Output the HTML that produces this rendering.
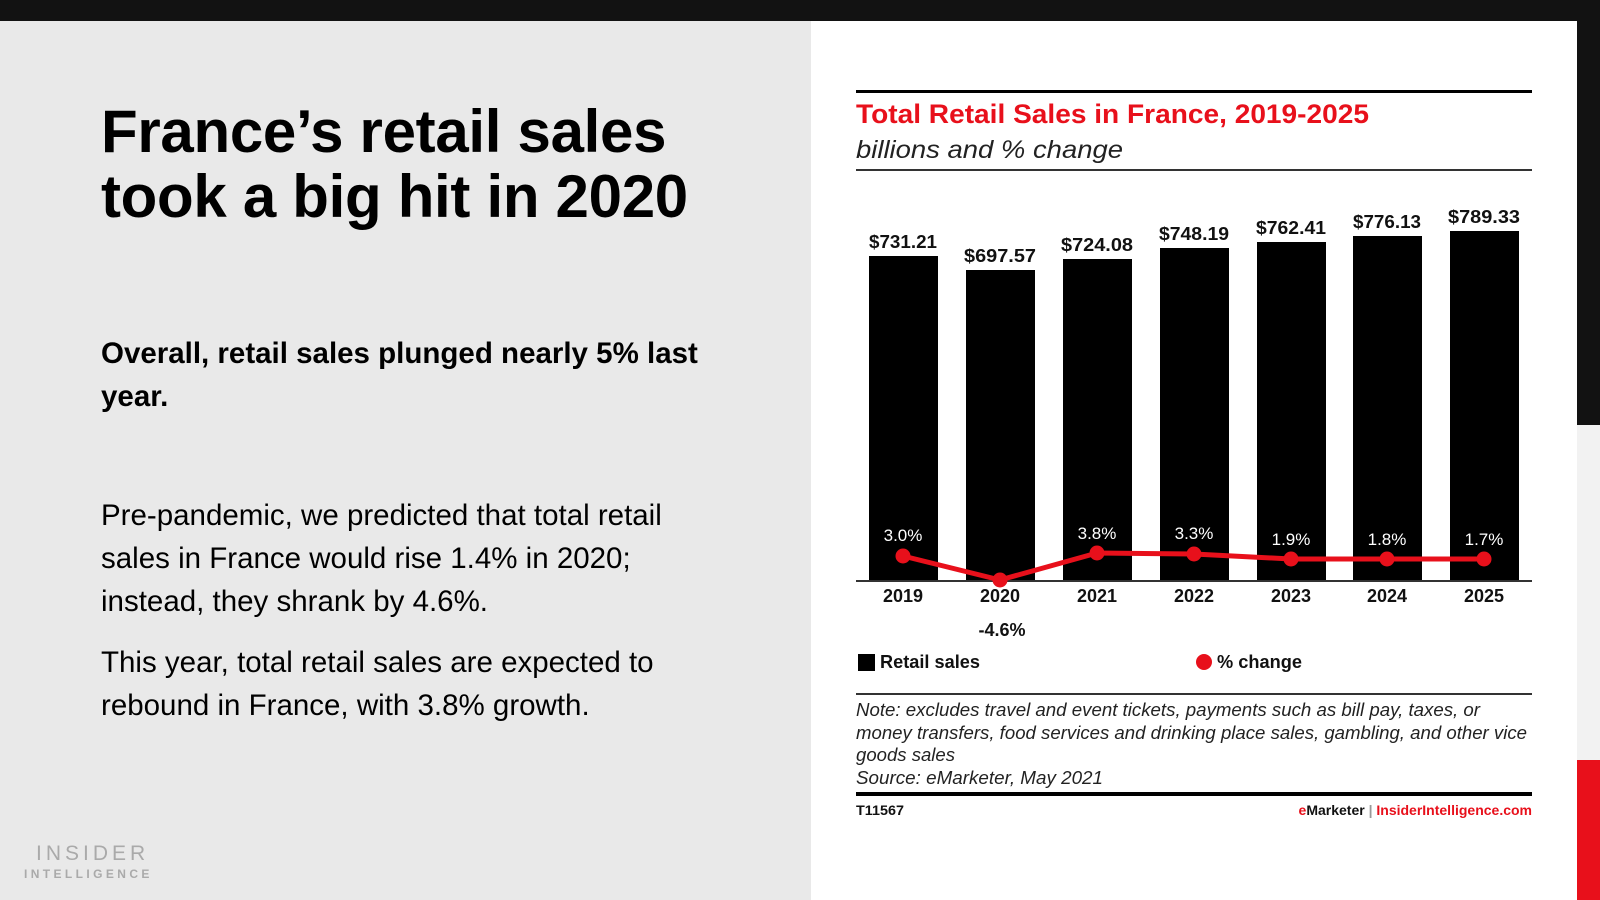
<!DOCTYPE html>
<html><head><meta charset="utf-8"><style>
html,body{margin:0;padding:0}
body{width:1600px;height:900px;position:relative;overflow:hidden;background:#e9e9e9;font-family:"Liberation Sans",Arial,sans-serif;color:#000}
.abs{position:absolute}
h1{position:absolute;left:101px;top:99px;margin:0;font-size:60px;line-height:65px;font-weight:bold;letter-spacing:-0.3px}
.p{position:absolute;left:101px;font-size:29.5px;line-height:43px;margin:0}
</style></head><body>
<div class="abs" style="left:0;top:0;width:1600px;height:21px;background:#121212"></div>
<div class="abs" style="left:811px;top:21px;width:766px;height:879px;background:#fff"></div>
<div class="abs" style="left:1577px;top:0;width:23px;height:425px;background:#121212"></div>
<div class="abs" style="left:1577px;top:425px;width:23px;height:335px;background:#f2f2f2"></div>
<div class="abs" style="left:1577px;top:760px;width:23px;height:140px;background:#e8101b"></div>

<h1>France’s retail sales<br>took a big hit in 2020</h1>
<p class="p" style="top:332px;font-weight:bold;width:610px">Overall, retail sales plunged nearly 5% last year.</p>
<p class="p" style="top:494px;width:600px">Pre-pandemic, we predicted that total retail sales in France would rise 1.4% in 2020; instead, they shrank by 4.6%.</p>
<p class="p" style="top:641px;width:600px">This year, total retail sales are expected to rebound in France, with 3.8% growth.</p>
<div class="abs" style="left:36px;top:842px;font-size:21px;letter-spacing:4px;color:#aaa">INSIDER</div>
<div class="abs" style="left:24px;top:867px;font-size:12px;letter-spacing:3.4px;color:#aaa;font-weight:bold">INTELLIGENCE</div>

<svg class="abs" style="left:0;top:0" width="1600" height="900" font-family="Liberation Sans, Arial, sans-serif">
<rect x="856" y="90" width="676" height="3" fill="#000"/>
<text x="856" y="123" font-size="27" font-weight="bold" fill="#e8101b" textLength="513" lengthAdjust="spacingAndGlyphs">Total Retail Sales in France, 2019-2025</text>
<text x="856" y="158" font-size="25" font-style="italic" fill="#222" textLength="267" lengthAdjust="spacingAndGlyphs">billions and % change</text>
<rect x="856" y="169" width="676" height="2" fill="#333"/>
<g fill="#000">
<rect x="869" y="256" width="69" height="325"/>
<rect x="966" y="270" width="69" height="311"/>
<rect x="1063" y="259" width="69" height="322"/>
<rect x="1160" y="248" width="69" height="333"/>
<rect x="1257" y="242" width="69" height="339"/>
<rect x="1353" y="236" width="69" height="345"/>
<rect x="1450" y="231" width="69" height="350"/>
</g>
<rect x="856" y="580" width="676" height="2" fill="#333"/>
<g font-size="18" font-weight="bold" text-anchor="middle" fill="#111">
<text x="903" y="248" textLength="68" lengthAdjust="spacingAndGlyphs">$731.21</text>
<text x="1000" y="262" textLength="72" lengthAdjust="spacingAndGlyphs">$697.57</text>
<text x="1097" y="251" textLength="72" lengthAdjust="spacingAndGlyphs">$724.08</text>
<text x="1194" y="240" textLength="70" lengthAdjust="spacingAndGlyphs">$748.19</text>
<text x="1291" y="234" textLength="70" lengthAdjust="spacingAndGlyphs">$762.41</text>
<text x="1387" y="228" textLength="68" lengthAdjust="spacingAndGlyphs">$776.13</text>
<text x="1484" y="223" textLength="72" lengthAdjust="spacingAndGlyphs">$789.33</text>
</g>
<polyline points="903,556 1000,580 1097,553 1194,554 1291,559 1387,559 1484,559" fill="none" stroke="#e8101b" stroke-width="5" stroke-linejoin="round"/>
<g fill="#e8101b">
<circle cx="903" cy="556" r="7.5"/><circle cx="1000" cy="580" r="7.5"/><circle cx="1097" cy="553" r="7.5"/><circle cx="1194" cy="554" r="7.5"/><circle cx="1291" cy="559" r="7.5"/><circle cx="1387" cy="559" r="7.5"/><circle cx="1484" cy="559" r="7.5"/>
</g>
<g font-size="17" text-anchor="middle" fill="#fff">
<text x="903" y="541">3.0%</text>
<text x="1097" y="539">3.8%</text>
<text x="1194" y="539">3.3%</text>
<text x="1291" y="545">1.9%</text>
<text x="1387" y="545">1.8%</text>
<text x="1484" y="545">1.7%</text>
</g>
<g font-size="18" font-weight="bold" text-anchor="middle" fill="#111">
<text x="903" y="602">2019</text><text x="1000" y="602">2020</text><text x="1097" y="602">2021</text><text x="1194" y="602">2022</text><text x="1291" y="602">2023</text><text x="1387" y="602">2024</text><text x="1484" y="602">2025</text>
<text x="1002" y="636">-4.6%</text>
</g>
<rect x="858" y="654" width="17" height="17" fill="#000"/>
<text x="880" y="668" font-size="18" font-weight="bold" fill="#111" textLength="100" lengthAdjust="spacingAndGlyphs">Retail sales</text>
<circle cx="1204" cy="662" r="8" fill="#e8101b"/>
<text x="1217" y="668" font-size="18" font-weight="bold" fill="#111" textLength="85" lengthAdjust="spacingAndGlyphs">% change</text>
<rect x="856" y="693" width="676" height="2" fill="#333"/>
<g font-size="18" font-style="italic" fill="#222">
<text x="856" y="716" textLength="624" lengthAdjust="spacingAndGlyphs">Note: excludes travel and event tickets, payments such as bill pay, taxes, or</text>
<text x="856" y="739" textLength="671" lengthAdjust="spacingAndGlyphs">money transfers, food services and drinking place sales, gambling, and other vice</text>
<text x="856" y="761" textLength="99" lengthAdjust="spacingAndGlyphs">goods sales</text>
<text x="856" y="784" textLength="247" lengthAdjust="spacingAndGlyphs">Source: eMarketer, May 2021</text>
</g>
<rect x="856" y="792" width="676" height="4" fill="#000"/>
<text x="856" y="815" font-size="14" font-weight="bold" fill="#111" textLength="48" lengthAdjust="spacingAndGlyphs">T11567</text>
<text x="1532" y="815" font-size="14" font-weight="bold" text-anchor="end"><tspan fill="#e8101b">e</tspan><tspan fill="#111">Marketer</tspan><tspan fill="#999"> | </tspan><tspan fill="#e8101b">InsiderIntelligence.com</tspan></text>
</svg>
</body></html>
